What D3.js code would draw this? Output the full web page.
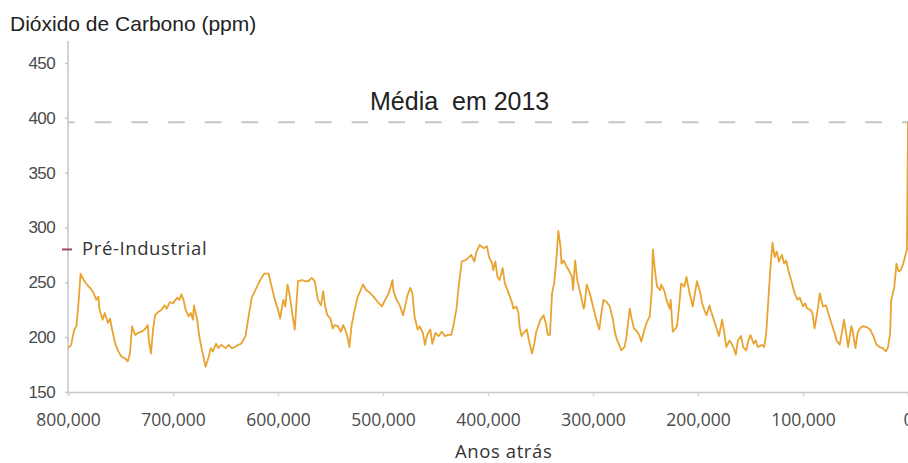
<!DOCTYPE html>
<html>
<head>
<meta charset="utf-8">
<script src="https://cdn.jsdelivr.net/npm/d3@7"></script>
<style>
  html, body { margin: 0; padding: 0; background: #fff; overflow: hidden; }
  svg { display: block; }
</style>
</head>
<body>
<svg id="chart" width="908" height="463"></svg>
<script>
// Ice-core CO2 record, thousands of years before present
const yearsAgoK = [
  800,797,794,792,790,788,785,782,779,776,773,771,770,767,765,762,760,758,755,752,
  749,746,743,741,739,738,736,733,730,727,724,723,721,719,717,714,711,708,706,703,
  700,696,694,692,690,688,685,683,681,680,677,675,673,671,669,666,664,662,659,657,
  654,650,647,644,641,638,635,631,628,625,620,617,613,609,606,603,600,598,595,593,
  591,589,586,584,581,577,574,571,568,565,562,559,557,555,553,550,548,546,543,540,
  538,536,534,532,530,527,524,519,516,512,509,505,501,498,495,493,491,490,487,484,
  481,479,477,476,474,472,470,467,465,462,460,458,455,453,450,447,444,441,438,435,
  433,430,428,425,422,419,416,413,411,408,404,401,399,396,395,393,391,389,386,384,
  381,377,376,373,371,370,368,366,363,361,358,356,354,350,347,345,343,341,339,337,
  335,333,331,330,328,325,323,320,319,317,315,312,309,308,306,303,300,296,294,292,
  290,287,284,281,279,277,275,273,270,268,265,263,261,258,256,254,251,249,246,244,
  243,241,239,236,235,232,230,227,226,224,222,220,218,216,213,211,208,205,201,198,
  196,194,192,189,188,185,182,180,177,175,173,170,168,166,164,162,159,157,154,152,
  150,147,145,143,139,137,135,133,131,129,127,125,123,120,118,116,114,111,108,105,
  103,100,98,96,93,91,89,86,84,81,78,76,73,70,68,65,63,61,59,57,
  54,53,50,48,46,43,39,36,33,30,27,24,21,19,17,16,13,11,9,7,
  4.5,3,1,0
];

// CO2 concentration (ppm) at each of the ages above
const co2Ppm = [
  190,193,207,210,231,258,252,248,245,241,234,237,225,216,222,213,217,207,194,187,
  182,181,178,185,210,207,202,204,205,207,211,197,185,207,220,223,225,229,226,232,
  231,236,234,239,234,225,219,222,216,229,216,201,191,182,173,182,190,187,194,190,
  193,190,193,190,191,193,194,201,219,236,246,252,258,258,246,234,225,217,234,228,
  248,239,219,207,251,252,251,251,254,251,234,229,242,228,220,217,208,211,210,205,
  211,207,201,191,210,225,237,248,243,240,237,232,228,234,239,245,252,242,234,229,
  220,228,237,240,245,240,219,207,210,204,193,202,207,194,204,201,205,201,202,202,
  210,226,246,269,270,272,275,269,278,284,281,283,273,267,261,269,255,252,263,249,
  242,231,226,228,222,210,201,204,207,197,185,194,205,216,220,213,202,202,240,249,
  270,297,283,267,270,264,261,255,243,270,252,240,226,229,248,240,228,213,207,222,
  234,232,228,216,204,197,193,188,191,201,226,216,208,205,202,196,207,213,219,243,
  280,261,246,243,248,242,234,226,234,205,207,210,228,249,246,255,240,228,251,241,
  231,225,220,229,225,216,207,201,216,204,191,197,194,190,184,197,201,191,188,197,
  202,194,197,191,193,191,204,234,264,286,273,278,269,275,267,270,261,251,240,234,
  236,228,231,226,225,222,208,225,240,228,229,222,213,204,197,193,204,216,204,191,
  210,207,190,204,208,210,209,207,201,193,191,190,187,191,204,234,246,267,260,261,
  267,273,280,396
];

// Reference levels
const mean2013Ppm = 396;
const preIndustrialPpm = 280;

// Axis ticks
const xTickValues = [800000, 700000, 600000, 500000, 400000, 300000, 200000, 100000, 0];
const yTickValues = [150, 200, 250, 300, 350, 400, 450];

// Labels
const titleText = "Dióxido de Carbono (ppm)";
const xAxisTitle = "Anos atrás";
const meanLabel = "Média  em 2013";
const preIndustrialLabel = "Pré-Industrial";

const series = yearsAgoK.map((k, i) => ({ years: k * 1000, ppm: co2Ppm[i] }));

const svg = d3.select("#chart");

const x = d3.scaleLinear().domain([800000, 0]).range([68, 908]);
const y = d3.scaleLinear().domain([150, 450]).range([392, 63]);

// Y axis: vertical rule reaching above the top tick, short ticks on the left
svg.append("line")
  .attr("x1", 68).attr("x2", 68)
  .attr("y1", 41).attr("y2", 392)
  .attr("stroke", "#c4c4cc").attr("stroke-width", 1.5);

const yAxis = svg.append("g")
  .attr("transform", "translate(68,0)")
  .call(d3.axisLeft(y).tickValues(yTickValues).tickSize(3).tickPadding(10).tickFormat(d3.format("d")));
yAxis.select(".domain").remove();
yAxis.selectAll(".tick line").attr("stroke", "#c4c4cc").attr("stroke-width", 1.5);
yAxis.selectAll(".tick text")
  .attr("fill", "#4a4a4a")
  .style("font-family", "'Liberation Sans', Arial, sans-serif")
  .style("font-size", "17px")
  .style("letter-spacing", "-0.6px");

// X axis
const xAxis = svg.append("g")
  .attr("transform", "translate(0,392)")
  .call(d3.axisBottom(x).tickValues(xTickValues).tickSize(4).tickPadding(18).tickFormat(d3.format(",")));
xAxis.select(".domain").attr("stroke", "#c8c8c8").attr("stroke-width", 1.5);
xAxis.selectAll(".tick line").attr("stroke", "#d0d0d0").attr("stroke-width", 1.5);
xAxis.selectAll(".tick text")
  .attr("fill", "#4a4a4a")
  .style("font-family", "'Open Sans', sans-serif")
  .style("font-size", "17.5px");

// 2013 mean level
svg.append("line")
  .attr("x1", x(800000)).attr("x2", x(0))
  .attr("y1", y(mean2013Ppm)).attr("y2", y(mean2013Ppm))
  .attr("stroke", "#c6c6c6")
  .attr("stroke-width", 2)
  .attr("stroke-dasharray", "16.7,20")
  .attr("stroke-dashoffset", 10);

// CO2 record
const line = d3.line()
  .x(d => x(d.years))
  .y(d => y(d.ppm));

svg.append("path")
  .datum(series)
  .attr("d", line)
  .attr("fill", "none")
  .attr("stroke", "#e8a330")
  .attr("stroke-width", 1.8)
  .attr("stroke-linejoin", "round");

// Pre-industrial marker
svg.append("line")
  .attr("x1", 62).attr("x2", 72)
  .attr("y1", y(preIndustrialPpm)).attr("y2", y(preIndustrialPpm))
  .attr("stroke", "#9c4b5e").attr("stroke-width", 2);

svg.append("text")
  .attr("x", 82).attr("y", 255)
  .attr("fill", "#333")
  .style("font-family", "'Open Sans', sans-serif")
  .style("font-size", "18.5px")
  .style("letter-spacing", "0.6px")
  .text(preIndustrialLabel);

// Chart title
svg.append("text")
  .attr("x", 10).attr("y", 31)
  .attr("fill", "#222")
  .style("font-family", "'Liberation Sans', Arial, sans-serif")
  .style("font-size", "21px")
  .text(titleText);

// Mean label
svg.append("text")
  .attr("x", 370).attr("y", 110)
  .attr("fill", "#222")
  .style("font-family", "'Liberation Sans', Arial, sans-serif")
  .style("font-size", "25px")
  .style("white-space", "pre")
  .text(meanLabel);

// X axis title
svg.append("text")
  .attr("x", 455).attr("y", 458)
  .attr("fill", "#333")
  .style("font-family", "'Open Sans', sans-serif")
  .style("font-size", "18.5px")
  .style("letter-spacing", "0.6px")
  .text(xAxisTitle);
</script>
</body>
</html>
